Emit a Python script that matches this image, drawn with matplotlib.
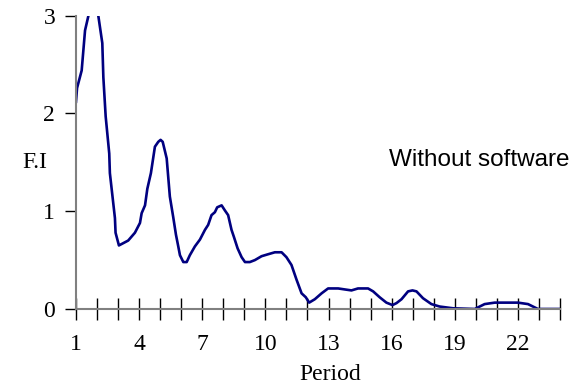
import numpy as np
import matplotlib
matplotlib.use('Agg')
import matplotlib.pyplot as plt
from matplotlib.ticker import MultipleLocator

# periodo e valores de F.I
periodo = [1.0, 1.05, 1.27, 1.43, 1.58, 1.8, 2.06, 2.25, 2.30, 2.41, 2.58, 2.61, 2.85, 2.88,
           3.04, 3.48, 3.80, 4.04, 4.12, 4.28, 4.39, 4.56, 4.75, 4.91, 5.02, 5.12,
           5.31, 5.46, 5.62, 5.75, 5.86, 5.94, 6.10, 6.26, 6.41, 6.65, 6.89, 7.13,
           7.28, 7.44, 7.60, 7.71, 7.92, 8.07, 8.23, 8.39, 8.50, 8.68, 8.87, 9.03,
           9.26, 9.50, 9.82, 10.13, 10.45, 10.77, 11.0, 11.24, 11.48, 11.72, 11.92,
           12.08, 12.35, 12.67, 12.98, 13.46, 13.77, 14.09, 14.4, 14.88, 15.12,
           15.43, 15.75, 16.04, 16.23, 16.47, 16.78, 16.99, 17.18, 17.49, 17.89,
           18.28, 18.92, 19.95, 20.42, 20.9, 22.0, 22.48, 22.95, 24.0]
fi = [2.12, 2.26, 2.44, 2.85, 2.99, 3.25, 3.0, 2.72, 2.37, 1.97, 1.59, 1.39, 0.93, 0.78,
      0.65, 0.70, 0.78, 0.88, 0.98, 1.06, 1.23, 1.39, 1.66, 1.71, 1.73, 1.71,
      1.54, 1.15, 0.94, 0.76, 0.64, 0.55, 0.48, 0.48, 0.55, 0.64, 0.71, 0.81,
      0.86, 0.96, 0.99, 1.04, 1.06, 1.01, 0.96, 0.81, 0.74, 0.62, 0.53, 0.48,
      0.48, 0.50, 0.54, 0.56, 0.58, 0.58, 0.53, 0.45, 0.30, 0.16, 0.12,
      0.065, 0.10, 0.16, 0.21, 0.21, 0.20, 0.19, 0.21, 0.21, 0.18,
      0.12, 0.065, 0.04, 0.06, 0.10, 0.18, 0.19, 0.18, 0.11, 0.05,
      0.025, 0.007, 0.0, 0.05, 0.065, 0.065, 0.05, 0.0, 0.0]

fig = plt.figure(figsize=(5.74, 3.87), dpi=100)
ax = fig.add_axes([0.1324, 0.2016, 0.8432, 0.7578])

ax.plot(periodo, fi, color='#000080', linewidth=1.9)

ax.set_xlim(1, 24)
ax.set_ylim(0, 3)

serif = ['Liberation Serif', 'DejaVu Serif']
ax.set_xticks(np.arange(1, 23, 3))
ax.xaxis.set_minor_locator(MultipleLocator(1))
ax.set_yticks([0, 1, 2, 3])

for s in ['top', 'right']:
    ax.spines[s].set_visible(False)
for s in ['left', 'bottom']:
    ax.spines[s].set_color('#808080')
    ax.spines[s].set_linewidth(1.5)

ax.tick_params(axis='x', which='both', direction='inout', length=16, width=1,
               color='black', pad=10)
ax.tick_params(axis='y', direction='out', length=8, width=1, color='black', pad=7)

for lbl in ax.get_xticklabels() + ax.get_yticklabels():
    lbl.set_family(serif)
    lbl.set_fontsize(17)

ax.set_xlabel('Period', family=serif, fontsize=17, va='center')
ax.xaxis.set_label_coords(0.525, -0.225)
fig.text(0.061, 0.579, 'F.I', family=serif, fontsize=17, ha='center', va='center')

ax.text(0.647, 0.508, 'Without software', transform=ax.transAxes,
        family=['Liberation Sans', 'DejaVu Sans'], fontsize=17.5, ha='left', va='center')

fig.savefig('out.png', dpi=100)
